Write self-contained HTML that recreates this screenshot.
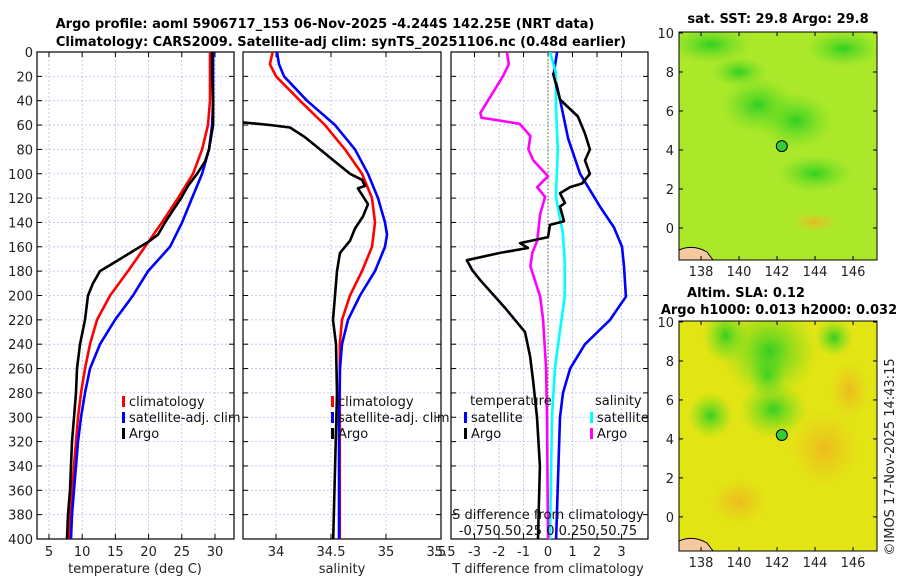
<!DOCTYPE html>
<html><head><meta charset="utf-8"><style>
html,body{margin:0;padding:0;background:#fff;}
svg{display:block;font-family:"DejaVu Sans","Liberation Sans",sans-serif;}
</style></head><body>
<svg id="fig" width="900" height="580" viewBox="0 0 900 580" xmlns="http://www.w3.org/2000/svg">
<defs>
<radialGradient id="g1"><stop offset="0" stop-color="#22cc22" stop-opacity="0.9"/><stop offset="1" stop-color="#66dd22" stop-opacity="0"/></radialGradient>
<radialGradient id="o1"><stop offset="0" stop-color="#f0b020" stop-opacity="0.8"/><stop offset="1" stop-color="#f0c020" stop-opacity="0"/></radialGradient>
<clipPath id="c1"><rect x="37" y="52" width="197" height="487"/></clipPath>
<clipPath id="c2"><rect x="243" y="52" width="198" height="487"/></clipPath>
<clipPath id="c3"><rect x="451" y="52" width="197" height="487"/></clipPath>
<clipPath id="cm1"><rect x="679" y="32" width="198" height="228"/></clipPath>
<clipPath id="cm2"><rect x="679" y="321" width="198" height="230"/></clipPath>
</defs>
<text x="325" y="28" text-anchor="middle" font-size="13" font-weight="bold">Argo profile: aoml 5906717_153 06-Nov-2025 -4.244S 142.25E (NRT data)</text>
<text x="341" y="46" text-anchor="middle" font-size="13" font-weight="bold">Climatology: CARS2009. Satellite-adj clim: synTS_20251106.nc (0.48d earlier)</text>
<g id="p1"></g>
<g id="p2"></g>
<g id="p3"></g>
<g id="m1"></g>
<g id="m2"></g>
<text x="778" y="23" text-anchor="middle" font-size="13" font-weight="bold">sat. SST: 29.8 Argo: 29.8</text>
<text x="746" y="297" text-anchor="middle" font-size="13" font-weight="bold">Altim. SLA: 0.12</text>
<text x="779" y="314" text-anchor="middle" font-size="13" font-weight="bold">Argo h1000: 0.013 h2000: 0.032</text>
<text transform="translate(894,457) rotate(-90)" text-anchor="middle" font-size="13" fill="#222">©IMOS 17-Nov-2025 14:43:15</text>
</svg>
<script>
// ---- data ----
const depthTicks=[0,20,40,60,80,100,120,140,160,180,200,220,240,260,280,300,320,340,360,380,400];
const tempTicks=[5,10,15,20,25,30];
const salTicks=[34,34.5,35,35.5];
const salTickLabels=["34","34.5","35","35.5"];
const tdiffTicks=[-3,-2,-1,0,1,2,3];
const sdiffLabels="-0.750.50.25 0 0.250.50.75";
const lonTicks=[138,140,142,144,146];
const latTicks=[0,2,4,6,8,10];

const climTDepth=[0,40,60,80,100,120,140,160,180,200,220,240,260,280,300,320,340,360,380,400];
const climT=[29.25,29.25,28.95,28.05,26.69,24.43,22.02,19.46,16.9,14.2,12.24,11.18,10.43,9.83,9.37,9.07,8.77,8.47,8.17,8.02];
const satTDepth=[0,40,60,80,100,120,140,160,180,200,220,240,260,280,300,320,340,360,380,400];
const satT=[29.71,29.71,29.56,29.1,28.05,26.54,25.04,23.23,19.92,17.66,14.95,12.69,11.18,10.43,9.83,9.37,9.07,8.77,8.47,8.32];
const argoTDepth=[0,20,40,60,80,90,100,110,120,130,140,150,155,165,175,180,190,200,220,240,260,280,300,320,340,360,380,400];
const argoT=[29.56,29.56,29.71,29.71,29.1,28.5,27.3,25.94,24.89,23.68,22.48,21.42,20.22,17.21,14.19,12.69,11.63,10.88,10.43,9.68,9.22,9.07,8.77,8.47,8.32,8.17,7.87,7.72];

const climSDepth=[0,10,20,40,60,80,100,120,140,160,180,200,220,240,300,400];
const climS=[33.97,33.945,34.0,34.218,34.445,34.627,34.782,34.873,34.9,34.873,34.782,34.673,34.6,34.58,34.58,34.58];
const satSDepth=[0,10,20,40,60,80,100,120,140,150,160,180,200,220,240,260,300,400];
const satS=[34.009,34.027,34.073,34.282,34.536,34.718,34.836,34.927,34.991,35.009,34.991,34.9,34.764,34.655,34.6,34.582,34.573,34.573];
const argoSDepth=[57,60,62,70,80,90,100,105,110,112,116,125,135,145,155,165,180,200,220,240,280,400];
const argoS=[33.6,33.945,34.127,34.264,34.4,34.536,34.673,34.782,34.809,34.745,34.773,34.836,34.791,34.718,34.673,34.582,34.555,34.536,34.518,34.545,34.555,34.52];

const argoTdDepth=[17,39,53,67,80,89,100,108,111,116,124,127,139,142,152,157,161,165,171,179,187,201,210,220,230,250,270,300,340,400];
const argoTd=[0.2,0.49,1.22,1.51,1.71,1.51,1.71,1.39,0.9,0.49,0.69,0.49,0.65,0.08,0,-1.14,-0.82,-1.96,-3.31,-3.1,-2.78,-2.16,-1.76,-1.35,-0.94,-0.73,-0.61,-0.45,-0.33,-0.41];
const satTdDepth=[0,17,39,71,100,127,144,160,176,201,220,240,260,280,300,400];
const satTd=[0.37,0.24,0.49,0.82,1.31,2.12,2.69,3.02,3.1,3.18,2.53,1.51,0.9,0.61,0.49,0.33];
const argoSdDepth=[0,10,20,50,54,59,69,80,89,102,111,119,133,155,165,176,201,220,260,300,400];
const argoSd=[-0.42,-0.4,-0.46,-0.69,-0.68,-0.29,-0.18,-0.2,-0.15,0,-0.11,-0.03,-0.08,-0.11,-0.16,-0.18,-0.08,-0.05,-0.02,-0.01,0];
const satSdDepth=[0,17,44,80,119,148,171,201,230,260,300,400];
const satSd=[0.02,0.08,0.08,0.1,0.08,0.15,0.17,0.17,0.12,0.07,0.04,0.02];

const argoLon=142.25, argoLat=4.2;

// ---- helpers ----
const NS="http://www.w3.org/2000/svg";
function mk(tag,attrs,parent){const e=document.createElementNS(NS,tag);for(const k in attrs)e.setAttribute(k,attrs[k]);parent.appendChild(e);return e;}
const Y0=52,Y1=539;
const yD=d=>Y0+(d/400)*(Y1-Y0);
function lin(d0,d1,r0,r1){return v=>r0+(v-d0)/(d1-d0)*(r1-r0);}

function frame(g,x0,x1,xs,xticks,ylabels){
  xticks.forEach(t=>{const l=mk('line',{x1:xs(t),x2:xs(t),y1:Y0,y2:Y1,stroke:'#b8c0e8','stroke-width':0.8,'stroke-dasharray':'2,2'},g);
    });
  depthTicks.forEach(d=>{if(d===0||d===400)return;const l=mk('line',{x1:x0,x2:x1,y1:yD(d),y2:yD(d),stroke:'#b8c0e8','stroke-width':0.8,'stroke-dasharray':'2,2'},g);
    });
  depthTicks.forEach(d=>{
    mk('line',{x1:x0,x2:x0+5,y1:yD(d),y2:yD(d),stroke:'#000','stroke-width':1},g);
    mk('line',{x1:x1,x2:x1-5,y1:yD(d),y2:yD(d),stroke:'#000','stroke-width':1},g);
    if(ylabels){const t=mk('text',{x:x0-4,y:yD(d)+5,'text-anchor':'end','font-size':13,fill:'#222'},g);t.textContent=d;
      }
  });
  xticks.forEach(t=>{mk('line',{x1:xs(t),x2:xs(t),y1:Y1,y2:Y1-5,stroke:'#000'},g);mk('line',{x1:xs(t),x2:xs(t),y1:Y0,y2:Y0+5,stroke:'#000'},g);});
  const r=mk('rect',{x:x0,y:Y0,width:x1-x0,height:Y1-Y0,fill:'none',stroke:'#000','stroke-width':1.2},g);
  
}
function series(g,clip,xs,vals,deps,color,name){
  const pts=vals.map((v,i)=>xs(v).toFixed(1)+','+yD(deps[i]).toFixed(1)).join(' ');
  const p=mk('polyline',{points:pts,fill:'none',stroke:color,'stroke-width':2.6,'stroke-linejoin':'round','clip-path':'url(#'+clip+')'},g);
  
}
function txt(g,x,y,s,opts,name){const t=mk('text',Object.assign({x:x,y:y,'font-size':13,fill:'#111'},opts||{}),g);t.textContent=s;
  return t;}
function legend(g,x,y,color,label){
  mk('rect',{x:x,y:y-10,width:3,height:11,fill:color},g);
  txt(g,x+7,y,label,{},'legend-entry');
}

// ---- panel 1: temperature ----
const g1=document.getElementById('p1');
const xT=lin(3.2,32.86,37,234);
frame(g1,37,234,xT,tempTicks,true);
tempTicks.forEach(t=>txt(g1,xT(t),556,String(t),{'text-anchor':'middle',fill:'#222'},'temp-tick-label'));
txt(g1,135,573,'temperature (deg C)',{'text-anchor':'middle',fill:'#222'},'x-axis-title-temperature');
series(g1,'c1',xT,climT,climTDepth,'#ff0000','climatology-temp-line');
series(g1,'c1',xT,satT,satTDepth,'#0000ff','satellite-temp-line');
series(g1,'c1',xT,argoT,argoTDepth,'#000000','argo-temp-line');
legend(g1,122,406,'#ff0000','climatology');
legend(g1,122,422,'#0000ff','satellite-adj. clim');
legend(g1,122,438,'#000000','Argo');

// ---- panel 2: salinity ----
const g2=document.getElementById('p2');
const xS=lin(33.7,35.5,243,441);
frame(g2,243,441,xS,salTicks,false);
salTicks.forEach((t,i)=>txt(g2,xS(t),556,salTickLabels[i],{'text-anchor':'middle',fill:'#222'},'salinity-tick-label'));
txt(g2,342,573,'salinity',{'text-anchor':'middle',fill:'#222'},'x-axis-title-salinity');
series(g2,'c2',xS,climS,climSDepth,'#ff0000','climatology-salinity-line');
series(g2,'c2',xS,satS,satSDepth,'#0000ff','satellite-salinity-line');
series(g2,'c2',xS,argoS,argoSDepth,'#000000','argo-salinity-line');
legend(g2,331,406,'#ff0000','climatology');
legend(g2,331,422,'#0000ff','satellite-adj. clim');
legend(g2,331,438,'#000000','Argo');

// ---- panel 3: differences ----
const g3=document.getElementById('p3');
const xTd=lin(-3.96,4.08,451,648);
const xSd=v=>xTd(v*4);
frame(g3,451,648,xTd,tdiffTicks,false);
const zl=mk('line',{x1:xTd(0),x2:xTd(0),y1:Y0,y2:Y1,stroke:'#556633','stroke-width':1,'stroke-dasharray':'1.5,2'},g3);

tdiffTicks.forEach(t=>txt(g3,xTd(t),556,String(t),{'text-anchor':'middle',fill:'#222'},'tdiff-tick-label'));
txt(g3,440,556,'.5',{'text-anchor':'middle',fill:'#222'},'tdiff-tick-label');
txt(g3,548,573,'T difference from climatology',{'text-anchor':'middle',fill:'#222'},'x-axis-title-tdiff');
series(g3,'c3',xTd,satTd,satTdDepth,'#0000ff','satellite-tdiff-line');
series(g3,'c3',xSd,satSd,satSdDepth,'#00ffff','satellite-sdiff-line');
series(g3,'c3',xSd,argoSd,argoSdDepth,'#ff00ff','argo-sdiff-line');
series(g3,'c3',xTd,argoTd,argoTdDepth,'#000000','argo-tdiff-line');
txt(g3,470,405,'temperature',{},'legend-header-temperature');
txt(g3,595,405,'salinity',{},'legend-header-salinity');
legend(g3,464,422,'#0000ff','satellite');
legend(g3,464,438,'#000000','Argo');
legend(g3,590,422,'#00ffff','satellite');
legend(g3,590,438,'#ff00ff','Argo');
txt(g3,548,519,'S difference from climatology',{'text-anchor':'middle'},'s-axis-title');
txt(g3,548,535,sdiffLabels,{'text-anchor':'middle'},'s-axis-tick-labels');

// ---- maps ----
function map(id,x0,x1,y0,y1,latTop,latBot,base,blobs,clip){
  const g=document.getElementById(id);
  const xL=lin(136.84,147.26,x0,x1), yL=lin(latTop,latBot,y0,y1);
  const bg=mk('rect',{x:x0,y:y0,width:x1-x0,height:y1-y0,fill:base},g);
  
  blobs.forEach(b=>{const e=mk('ellipse',{cx:xL(b[0]),cy:yL(b[1]),rx:b[2]*19,ry:b[3]*19,fill:'url(#'+b[4]+')','clip-path':'url(#'+clip+')'},g);
    });
  const land=mk('path',{d:`M${x0},${y1} L${x0},${y1-10} Q${x0+14},${y1-16} ${x0+28},${y1-8} L${x0+34},${y1} Z`,fill:'#f5c8a0',stroke:'#000','stroke-width':1},g);
  
  const m=mk('circle',{cx:xL(argoLon),cy:yL(argoLat),r:5.5,fill:'#33cc33',stroke:'#000','stroke-width':1},g);
  
  mk('rect',{x:x0,y:y0,width:x1-x0,height:y1-y0,fill:'none',stroke:'#000','stroke-width':1},g);
  lonTicks.forEach(t=>{mk('line',{x1:xL(t),x2:xL(t),y1:y1,y2:y1-4,stroke:'#000'},g);mk('line',{x1:xL(t),x2:xL(t),y1:y0,y2:y0+4,stroke:'#000'},g);
    txt(g,xL(t),y1+16,String(t),{'text-anchor':'middle',fill:'#222'},'lon-tick-label');});
  latTicks.forEach(t=>{mk('line',{x1:x0,x2:x0+4,y1:yL(t),y2:yL(t),stroke:'#000'},g);mk('line',{x1:x1,x2:x1-4,y1:yL(t),y2:yL(t),stroke:'#000'},g);
    txt(g,x0-5,yL(t)+5,String(t),{'text-anchor':'end',fill:'#222'},'lat-tick-label');});
}
map('m1',679,877,32,260,10.05,-1.64,'#ace82a',
  [[138.5,9.4,2.2,1.0,'g1'],[141,6.3,2,1.5,'g1'],[143,5.5,2,1.5,'g1'],[145.5,9.2,2,1,'g1'],[144,0.3,1.2,0.5,'o1'],[144,2.8,2,1,'g1'],[140,8,1.5,0.8,'g1']],'cm1');
map('m2',679,877,321,551,10.05,-1.75,'#e2e414',
  [[139.3,9.3,1.2,1.5,'g1'],[141.5,7.3,1,1.2,'g1'],[145,9.2,1,1,'g1'],[141.6,8.5,2.5,2.5,'g1'],[138.5,5.2,1.2,1.2,'g1'],[141.8,5.5,1.8,1.5,'g1'],[144.5,3.5,1.8,2,'o1'],[145.8,6.5,1,1.5,'o1'],[140,0.8,1.5,1.2,'o1']],'cm2');
</script>
</body></html>
